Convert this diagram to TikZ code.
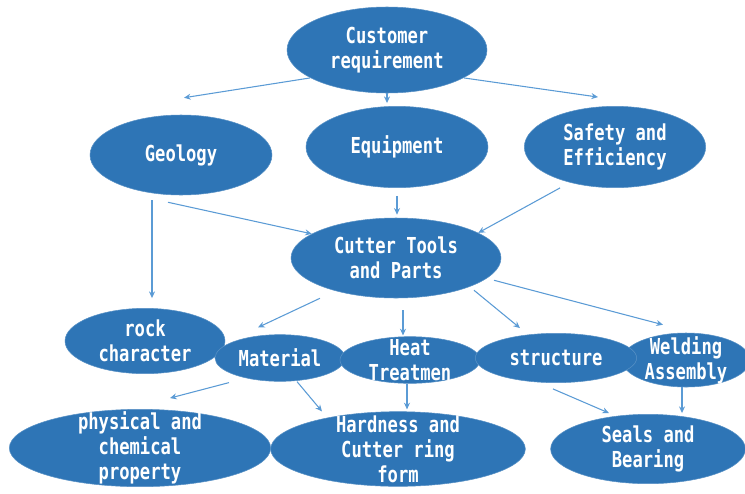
\documentclass[tikz,border=0pt]{standalone}
\usepackage{fontspec}
\newfontfamily\bubblefont[FakeStretch=0.78]{DejaVu Sans Mono}
\usetikzlibrary{shapes.geometric,arrows.meta}
\definecolor{bubbleblue}{HTML}{2E75B6}
\definecolor{linkblue}{HTML}{5B9BD5}
\begin{document}
\begin{tikzpicture}[x=0.75pt,y=-0.75pt,
  bubbletext/.style={inner sep=0pt,align=center,text=white,
    font=\bubblefont\bfseries\fontsize{16.5}{18.75}\selectfont},
  bubble/.style={ellipse,fill=bubbleblue,draw=bubbleblue!80!white,line width=0.4pt,
    inner sep=0pt,label={[bubbletext]center:{#1}}},
  link/.style={draw=linkblue,line width=0.8pt,-{Stealth[length=5pt,width=4.5pt]}}]
\useasboundingbox (0,0) rectangle (745,493);
% top level
\node[bubble={Customer\\requirement},minimum width=150pt,minimum height=64.5pt] (cust) at (387,50) {};
\node[bubble={Geology},minimum width=136.5pt,minimum height=60pt] (geo) at (181,155) {};
\node[bubble={Equipment},minimum width=136.5pt,minimum height=61pt] (equip) at (397,147) {};
\node[bubble={Safety and\\Efficiency},minimum width=136pt,minimum height=61pt] (safe) at (615,147) {};
\node[bubble={Cutter Tools\\and Parts},minimum width=157.5pt,minimum height=60pt] (cut) at (396,258) {};
% middle row
\node[bubble={rock\\character},minimum width=120pt,minimum height=49pt] (rock) at (145,341) {};
\node[bubble={Material},minimum width=97.5pt,minimum height=35pt] (mat) at (280,358) {};
\node[bubble={Heat\\Treatmen},minimum width=105pt,minimum height=35pt] (heat) at (410,360) {};
\node[bubble={Welding\\Assembly},minimum width=96pt,minimum height=40.5pt] (weld) at (686,360) {};
\node[bubble={structure},minimum width=121pt,minimum height=37pt] (struct) at (556,358) {};
% bottom row
\node[bubble={physical and\\chemical\\property},minimum width=196pt,minimum height=58pt] (phys) at (140,448) {};
\node[bubble={Hardness and\\Cutter ring\\form},minimum width=191pt,minimum height=56pt] (hard) at (398,449) {};
\node[bubble={Seals and\\Bearing},minimum width=146pt,minimum height=52pt] (seals) at (648,449) {};
% arrows from the top
\draw[link] (cust.200) -- ([xshift=2.25pt,yshift=12.75pt]geo.north);
\draw[link,shorten >=2.25pt] (cust.south) -- (cust.south |- equip.north);
\draw[link] (cust.340) -- ([xshift=-12.75pt,yshift=6.75pt]safe.north);
\draw[link,shorten >=7.5pt] ([xshift=-21.75pt,yshift=-3.75pt]geo.south) -- ([xshift=5.25pt]rock.north);
\draw[link] ([xshift=-9.75pt,yshift=-5.25pt]geo.south) -- (cut.164);
\draw[link,shorten <=6pt,shorten >=2.25pt] (equip.south) -- (equip.south |- cut.north);
\draw[link] ([xshift=-41.25pt]safe.south) -- (cut.17);
% arrows from cutter tools
\draw[link] ([xshift=-57pt]cut.south) -- ([xshift=-16.5pt,yshift=5.25pt]mat.north);
\draw[link,shorten >=0.75pt] ([xshift=5.25pt,yshift=-9pt]cut.south) -- ([xshift=-5.25pt]heat.north);
\draw[link] ([xshift=58.5pt,yshift=6pt]cut.south) -- ([xshift=-27pt,yshift=3.75pt]struct.north);
\draw[link] ([xshift=73.5pt,yshift=13.5pt]cut.south) -- ([xshift=-17.25pt,yshift=6pt]weld.north);
% arrows to the bottom row
\draw[link] ([xshift=-38.25pt,yshift=-0.75pt]mat.south) -- ([xshift=22.5pt,yshift=8.25pt]phys.north);
\draw[link] ([xshift=12.75pt]mat.south) -- ([xshift=-57pt]hard.north);
\draw[link,shorten >=1.5pt] ([xshift=-2.25pt]heat.south) -- ([xshift=6.75pt]hard.north);
\draw[link] ([xshift=-2.25pt,yshift=-4.5pt]struct.south) -- ([xshift=-29.25pt,yshift=0.75pt]seals.north);
\draw[link,shorten >=0.75pt] ([xshift=-3pt]weld.south) -- ([xshift=25.5pt]seals.north);
\end{tikzpicture}
\end{document}
